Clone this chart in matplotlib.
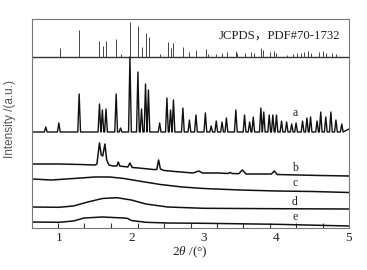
import numpy as np
import matplotlib
matplotlib.use("Agg")
import matplotlib.pyplot as plt

# JCPDS reference sticks (2theta, height above its baseline)
stick_pos = [1.01, 1.28, 1.56, 1.61, 1.65, 1.79, 1.86, 1.98, 2.09, 2.14, 2.20, 2.24,
             2.40, 2.50, 2.55, 2.58, 2.71, 2.80, 2.89, 3.03, 3.05, 3.17, 3.25, 3.32,
             3.44, 3.46, 3.56, 3.65, 3.69, 3.79, 3.81, 3.91, 3.97, 4.00, 4.15, 4.23,
             4.29, 4.34, 4.38, 4.43, 4.48, 4.58, 4.64, 4.68, 4.76, 4.82]
stick_h = [9, 27, 16, 11, 16, 18, 3, 35, 31, 10, 24, 20,
           3, 15, 9, 14, 10, 5, 7, 8, 3, 3, 4, 5,
           6, 4, 4, 5, 4, 9, 7, 5, 6, 4, 2, 3,
           4, 4, 5, 6, 4, 5, 6, 4, 4, 3]
stick_base = 171

# sample a: peak positions and peak tops
a_pos = [0.82, 1.00, 1.28, 1.56, 1.60, 1.65, 1.79, 1.85, 1.98, 2.09, 2.14, 2.195,
         2.235, 2.39, 2.49, 2.54, 2.58, 2.71, 2.80, 2.89, 3.02, 3.10, 3.17, 3.25,
         3.31, 3.44, 3.56, 3.63, 3.68, 3.785, 3.825, 3.90, 3.95, 4.00, 4.07, 4.14,
         4.21, 4.27, 4.36, 4.42, 4.47, 4.56, 4.61, 4.68, 4.75, 4.82, 4.90]
a_top = [101, 105, 134, 124, 118, 119, 134, 100, 171, 156, 119, 144,
         138, 105, 130, 118, 128, 120, 108, 113, 115, 102, 107, 106,
         110, 118, 113, 106, 111, 120, 116, 113, 113, 113, 107, 106,
         104, 105, 107, 110, 111, 107, 116, 111, 116, 108, 104]
a_base = 96

b_x = [0.63, 1.0, 1.3, 1.5, 1.525, 1.56, 1.585, 1.605, 1.635, 1.66, 1.69, 1.75, 1.80,
       1.82, 1.84, 1.95, 1.98, 2.01, 2.1, 2.3, 2.35, 2.375, 2.40, 2.45, 2.6, 2.85,
       2.93, 2.98, 3.2, 3.33, 3.36, 3.39, 3.48, 3.53, 3.58, 3.8, 3.93, 3.97, 4.01,
       4.3, 4.6, 5.0]
b_y = [64, 64, 63.5, 63, 64, 85, 73, 72, 84, 68, 63, 62, 62,
       66, 62, 61, 65, 60.5, 60, 58.5, 58.5, 68, 59, 57.5, 56.5, 55,
       57, 55, 55, 54.5, 55.5, 54.5, 54.3, 58, 54, 54, 54, 57, 53.5,
       53, 52.5, 52]

c_x = [0.63, 0.9, 1.2, 1.5, 1.7, 1.9, 2.1, 2.4, 2.7, 3.0, 3.5, 4.0, 4.5, 5.0]
c_y = [49, 48, 49.5, 51, 51, 49.5, 47, 43.5, 41, 39.5, 38, 37, 36.5, 35.5]

d_x = [0.63, 1.0, 1.2, 1.4, 1.6, 1.8, 2.0, 2.2, 2.5, 3.0, 4.0, 5.0]
d_y = [21, 20.7, 22, 26, 29.5, 30.3, 28, 24, 21, 19.7, 19.3, 19]

e_x = [0.63, 1.0, 1.2, 1.35, 1.6, 1.9, 1.95, 2.0, 2.2, 2.5, 3.0, 4.0, 5.0]
e_y = [6, 5.7, 7, 10, 11, 10, 9.5, 7.5, 5.7, 5, 4.7, 3.7, 2]

labels = ['a', 'b', 'c', 'd', 'e']
label_y = [115, 60, 45, 26, 11]

plt.rcParams['mathtext.fontset'] = 'custom'
plt.rcParams['mathtext.it'] = 'Liberation Serif:italic'
plt.rcParams['mathtext.rm'] = 'Liberation Serif'
serif = ['Liberation Serif', 'Noto Sans CJK SC']

fig = plt.figure(figsize=(3.67, 2.70), dpi=100)
ax = fig.add_axes([32 / 367, 42 / 270, 317 / 367, 209 / 270])

# sticks
ax.axhline(stick_base, color='#333', lw=1.0)
ax.vlines(stick_pos, stick_base, np.array(stick_h) + stick_base, color='#444', lw=0.7)

# curve a built from its peak list
w = 0.019
ax_pts = [0.63]
ay_pts = [a_base]
for p, t in zip(a_pos, a_top):
    ax_pts += [p - w, p, p + w]
    ay_pts += [a_base, t, a_base]
ax_pts.append(5.0)
ay_pts.append(a_base + 3)
ax.plot(ax_pts, ay_pts, color='#111', lw=1.0)

for xs, ys in [(b_x, b_y), (c_x, c_y), (d_x, d_y), (e_x, e_y)]:
    ax.plot(xs, ys, color='#111', lw=1.1)

for lab, ly in zip(labels, label_y):
    ax.text(4.255, ly, lab, ha='center', va='center', fontsize=8.5, family=serif, color='#222')

ax.text(4.88, 192, 'JCPDS，PDF#70-1732', ha='right', va='center', fontsize=9.2,
        family=serif, color='#222')

ax.set_xlim(0.63, 5.0)
ax.set_ylim(0, 209)
ax.set_yticks([])
ax.set_xticks([1, 2, 3, 4, 5])
ax.set_xticklabels(['1', '2', '3', '4', '5'], family=serif, fontsize=9.5, color='#222')
ax.set_xticks([0.986, 1.345, 1.717, 2.09, 2.45, 2.82, 3.18, 3.54, 3.91, 4.27, 4.64],
              minor=True)
ax.tick_params(axis='x', which='major', direction='in', length=0, pad=3)
ax.tick_params(axis='x', which='minor', direction='in', length=3.5, width=0.8, color='#333')
for s in ax.spines.values():
    s.set_color('#777')
    s.set_linewidth(0.8)

fig.text(10 / 367, 1 - 119 / 270, 'Intensity /(a.u.)', rotation=90, ha='center', va='center',
         fontsize=8.5, family='Liberation Sans', color='#555')
fig.text(190 / 367, 1 - 252 / 270, r'$\mathit{2\theta}$ /(°)', ha='center', va='center',
         fontsize=9.5, family=serif, color='#222')

fig.savefig('out.png', dpi=100)
